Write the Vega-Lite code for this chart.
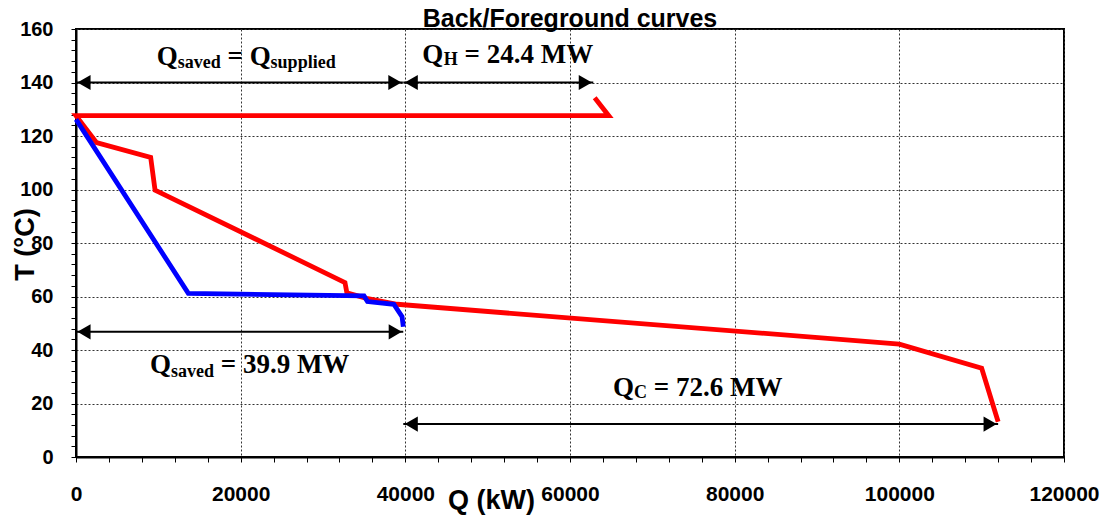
{
  "$schema": "https://vega.github.io/schema/vega-lite/v6.json",
  "autosize": {"type": "none"},
  "width": 988,
  "height": 428,
  "padding": {"top": 29, "left": 76, "right": 36, "bottom": 58},
  "background": "white",
  "config": {
    "view": {"stroke": "black", "strokeWidth": 2}
  },
  "title": {
    "text": "Back/Foreground curves",
    "font": "Liberation Sans",
    "fontSize": 25,
    "fontWeight": "bold",
    "color": "black",
    "anchor": "middle",
    "frame": "group",
    "offset": -13
  },
  "datasets": {
    "red": [
      {"i": 1, "q": 63000, "t": 134.3},
      {"i": 2, "q": 64700, "t": 127.6},
      {"i": 3, "q": 0, "t": 127.6},
      {"i": 4, "q": 2500, "t": 117.5},
      {"i": 5, "q": 9070, "t": 112.0},
      {"i": 6, "q": 9600, "t": 99.8},
      {"i": 7, "q": 32670, "t": 65.2},
      {"i": 8, "q": 32900, "t": 61.4},
      {"i": 9, "q": 35300, "t": 59.3},
      {"i": 10, "q": 39000, "t": 57.1},
      {"i": 11, "q": 100000, "t": 42.2},
      {"i": 12, "q": 110000, "t": 33.2},
      {"i": 13, "q": 112000, "t": 13.2}
    ],
    "blue": [
      {"i": 1, "q": 0, "t": 126.2},
      {"i": 2, "q": 13640, "t": 61.2},
      {"i": 3, "q": 34980, "t": 60.2},
      {"i": 4, "q": 35400, "t": 58.1},
      {"i": 5, "q": 38600, "t": 57.1},
      {"i": 6, "q": 39600, "t": 52.5},
      {"i": 7, "q": 39750, "t": 48.7}
    ],
    "arrows": [
      {"t": 140, "q": 0, "q2": 39700},
      {"t": 140, "q": 39750, "q2": 62830},
      {"t": 46.8, "q": 0, "q2": 39750},
      {"t": 12.3, "q": 39750, "q2": 112000}
    ],
    "leftHeads": [
      {"t": 140, "q": 0},
      {"t": 140, "q": 39750},
      {"t": 46.8, "q": 0},
      {"t": 12.3, "q": 39750}
    ],
    "rightHeads": [
      {"t": 140, "q": 39700},
      {"t": 140, "q": 62830},
      {"t": 46.8, "q": 39750},
      {"t": 12.3, "q": 112000}
    ],
    "mainText": [
      {"q": 9802, "t": 146.5, "text": "Q"},
      {"q": 18401, "t": 146.5, "text": "= Q"},
      {"q": 42068, "t": 147.2, "text": "Q"},
      {"q": 47187, "t": 147.2, "text": "= 24.4 MW"},
      {"q": 8988, "t": 31.3, "text": "Q"},
      {"q": 17581, "t": 31.3, "text": "= 39.9 MW"},
      {"q": 65222, "t": 22.8, "text": "Q"},
      {"q": 70173, "t": 22.8, "text": "= 72.6 MW"}
    ],
    "subText": [
      {"q": 12353, "t": 145.4, "text": "saved"},
      {"q": 23636, "t": 145.4, "text": "supplied"},
      {"q": 44660, "t": 146.4, "text": "H"},
      {"q": 11539, "t": 29.9, "text": "saved"},
      {"q": 67773, "t": 21.9, "text": "C"}
    ]
  },
  "encoding": {
    "x": {
      "field": "q", "type": "quantitative",
      "scale": {"domain": [0, 120000], "nice": false, "zero": false},
      "axis": {
        "title": "Q (kW)",
        "titleFont": "Liberation Sans", "titleFontSize": 27, "titleFontWeight": "bold", "titleColor": "black",
        "titleAlign": "center", "titleBaseline": "alphabetic", "titleX": 415, "titleY": 51,
        "values": [0,4000,8000,12000,16000,20000,24000,28000,32000,36000,40000,44000,48000,52000,56000,60000,64000,68000,72000,76000,80000,84000,88000,92000,96000,100000,104000,108000,112000,116000,120000],
        "format": "d",
        "labelExpr": "datum.value % 20000 === 0 ? datum.label : ''",
        "labelFont": "Liberation Sans", "labelFontSize": 21, "labelFontWeight": "bold", "labelColor": "black",
        "labelFlush": false, "labelOverlap": false, "labelPadding": 21,
        "domainColor": "black", "domainWidth": 2,
        "tickColor": "black", "tickWidth": 1, "tickSize": 5,
        "grid": true, "gridColor": "#333333", "gridDash": [2, 2], "gridWidth": 1,
        "gridOpacity": {"condition": {"test": "datum.value % 20000 === 0", "value": 1}, "value": 0}
      }
    },
    "y": {
      "field": "t", "type": "quantitative",
      "scale": {"domain": [0, 160], "nice": false, "zero": false},
      "axis": {
        "title": "T (°C)",
        "titleFont": "Liberation Sans", "titleFontSize": 27, "titleFontWeight": "bold", "titleColor": "black",
        "titleAlign": "center", "titleBaseline": "alphabetic", "titleAngle": 270, "titleX": -43, "titleY": 215,
        "values": [0,4,8,12,16,20,24,28,32,36,40,44,48,52,56,60,64,68,72,76,80,84,88,92,96,100,104,108,112,116,120,124,128,132,136,140,144,148,152,156,160],
        "format": "d",
        "labelExpr": "datum.value % 20 === 0 ? datum.label : ''",
        "labelFont": "Liberation Sans", "labelFontSize": 20, "labelFontWeight": "bold", "labelColor": "black",
        "labelFlush": false, "labelOverlap": false, "labelPadding": 18,
        "domainColor": "black", "domainWidth": 2,
        "tickColor": "black", "tickWidth": 1, "tickSize": 5,
        "grid": true, "gridColor": "#333333", "gridDash": [2, 2], "gridWidth": 1,
        "gridOpacity": {"condition": {"test": "datum.value % 20 === 0", "value": 1}, "value": 0}
      }
    }
  },
  "layer": [
    {
      "data": {"name": "red"},
      "mark": {"type": "line", "color": "#ff0000", "strokeWidth": 4.8},
      "encoding": {"order": {"field": "i", "type": "quantitative"}}
    },
    {
      "data": {"name": "blue"},
      "mark": {"type": "line", "color": "#0000ff", "strokeWidth": 4.8},
      "encoding": {"order": {"field": "i", "type": "quantitative"}}
    },
    {
      "data": {"name": "arrows"},
      "mark": {"type": "rule", "color": "black", "strokeWidth": 2},
      "encoding": {"x2": {"field": "q2"}}
    },
    {
      "data": {"name": "leftHeads"},
      "mark": {"type": "point", "shape": "triangle-left", "filled": true, "opacity": 1, "color": "black", "size": 230, "xOffset": 8},
      "encoding": {}
    },
    {
      "data": {"name": "rightHeads"},
      "mark": {"type": "point", "shape": "triangle-right", "filled": true, "opacity": 1, "color": "black", "size": 230, "xOffset": -8},
      "encoding": {}
    },
    {
      "data": {"name": "mainText"},
      "mark": {"type": "text", "font": "Liberation Serif", "fontWeight": "bold", "fontSize": 27, "color": "black", "align": "left", "baseline": "alphabetic"},
      "encoding": {"text": {"field": "text"}}
    },
    {
      "data": {"name": "subText"},
      "mark": {"type": "text", "font": "Liberation Serif", "fontWeight": "bold", "fontSize": 18, "color": "black", "align": "left", "baseline": "alphabetic"},
      "encoding": {"text": {"field": "text"}}
    }
  ]
}
